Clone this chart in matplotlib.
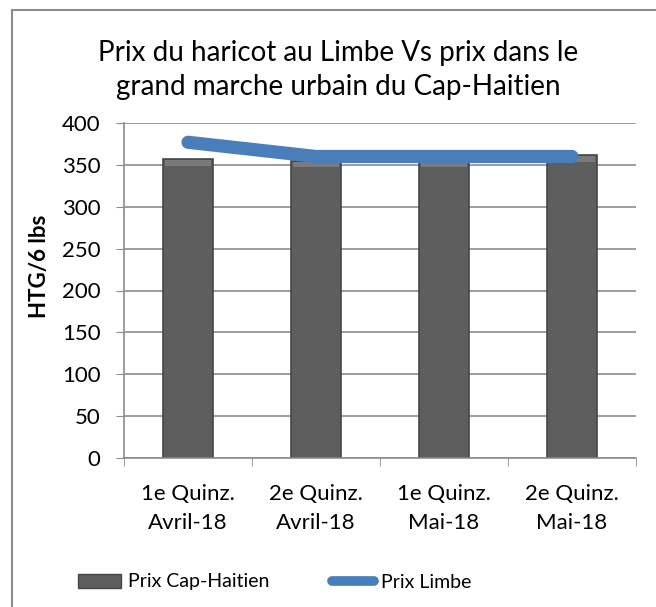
import numpy as np
import matplotlib
matplotlib.use("Agg")
import matplotlib.pyplot as plt
from matplotlib.patches import Rectangle
from matplotlib.lines import Line2D

categories = ["1e Quinz.\nAvril-18", "2e Quinz.\nAvril-18", "1e Quinz.\nMai-18", "2e Quinz.\nMai-18"]
prix_cap = [357, 355, 355, 362]
prix_limbe = [377, 360, 360, 360]

plt.rcParams['font.family'] = ['Lato', 'DejaVu Sans']

fig = plt.figure(figsize=(6.56, 6.07), dpi=100)
ax = fig.add_axes([124/656, 1 - 458/607, 512/656, 335/607])

# outer frame (right and bottom edges fall outside the picture)
fig.patches.append(Rectangle((12/656, -0.05), 1.1, 1 - 10/607 + 0.05, transform=fig.transFigure,
                             fill=False, edgecolor='#8c8c8c', linewidth=1.5))

x = np.arange(len(categories))
ax.bar(x, prix_cap, width=0.39, color='#5e5e5e', edgecolor='#474747', linewidth=1.2, zorder=2)
# lighter bevel on top of the bars
ax.bar(x, [7] * len(x), bottom=np.array(prix_cap) - 8, width=0.36, color='#7a7a7a', linewidth=0, zorder=3)
ax.plot(x, prix_limbe, color='#4a7ebb', linewidth=9.5, solid_capstyle='round', solid_joinstyle='round', zorder=4)

ax.set_xlim(-0.5, 3.5)
ax.set_ylim(0, 400)
ax.set_yticks(range(0, 401, 50))
ax.set_xticks(x)
ax.set_xticklabels(categories, fontsize=16, linespacing=1.55)
ax.tick_params(axis='y', labelsize=16, length=6, color='#8c8c8c', pad=11)
ax.tick_params(axis='x', length=0, pad=19)
ax.set_xticks(np.arange(-0.5, 3.6, 1), minor=True)
ax.tick_params(axis='x', which='minor', length=6, color='#8c8c8c')
ax.grid(axis='y', color='#8c8c8c', linewidth=1.2, zorder=0)
for s in ['top', 'right']:
    ax.spines[s].set_visible(False)
for s in ['left', 'bottom']:
    ax.spines[s].set_color('#8c8c8c')
    ax.spines[s].set_linewidth(1.2)
ax.set_ylabel("HTG/6 lbs", fontsize=16, fontweight='bold')
ax.yaxis.set_label_coords(-0.145, 0.573)

fig.text(338/656, 1 - 70/607, "Prix du haricot au Limbe Vs prix dans le\ngrand marche urbain du Cap-Haitien",
         ha='center', va='center', fontsize=20, linespacing=1.4)

handles = [Rectangle((0, 0), 1, 1, facecolor='#5e5e5e', edgecolor='#474747'),
           Line2D([0], [0], color='#4a7ebb', linewidth=7, solid_capstyle='round')]
fig.legend(handles, ["Prix Cap-Haitien", "Prix Limbe"], loc='center', bbox_to_anchor=(275/656, 1 - 582/607),
           ncol=2, frameon=False, fontsize=14, handlelength=2.2, handletextpad=0.35, columnspacing=3.2)

fig.savefig("out.png", dpi=100)
